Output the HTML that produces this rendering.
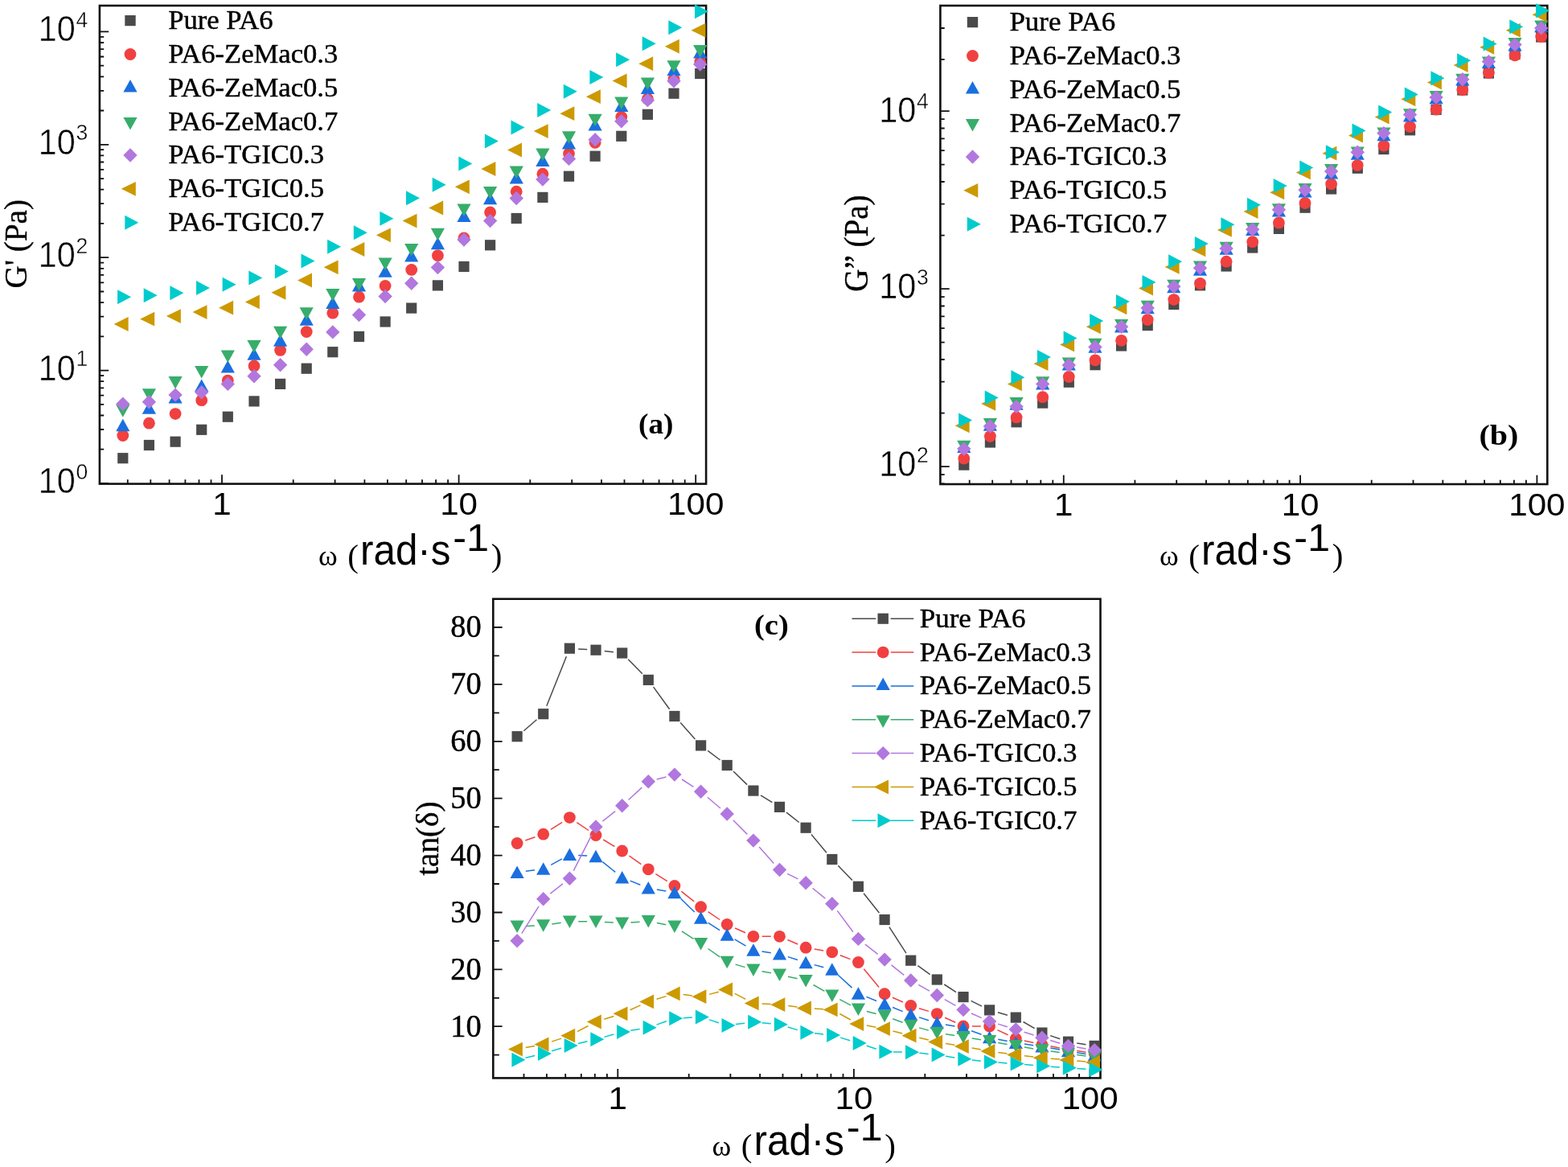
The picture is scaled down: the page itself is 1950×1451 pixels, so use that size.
<!DOCTYPE html>
<html lang="en">
<head>
<meta charset="utf-8">
<title>Rheology of PA6 blends</title>
<style>
html,body{margin:0;padding:0;background:#fff;}
body{width:1950px;height:1451px;overflow:hidden;}
svg{display:block;}
text{fill:#000;}
</style>
</head>
<body>
<svg width="1950" height="1451" viewBox="0 0 1950 1451">
<rect width="1950" height="1451" fill="#fff"/>
<rect x="123.9" y="7" width="754.2" height="594.6" fill="none" stroke="#111" stroke-width="2.6"/>
<path d="M158.8 601.6v-5.3M187.3 601.6v-5.3M210.6 601.6v-5.3M230.4 601.6v-5.3M247.5 601.6v-5.3M262.5 601.6v-5.3M276 601.6v-11.3M364.7 601.6v-5.3M416.6 601.6v-5.3M453.4 601.6v-5.3M481.9 601.6v-5.3M505.2 601.6v-5.3M525 601.6v-5.3M542.1 601.6v-5.3M557.1 601.6v-5.3M570.6 601.6v-11.3M659.3 601.6v-5.3M711.2 601.6v-5.3M748 601.6v-5.3M776.5 601.6v-5.3M799.8 601.6v-5.3M819.6 601.6v-5.3M836.7 601.6v-5.3M851.7 601.6v-5.3M865.2 601.6v-11.3" stroke="#111" stroke-width="1.8" fill="none"/>
<path d="M123.9 601h11.3M123.9 558.7h5.3M123.9 534h5.3M123.9 516.5h5.3M123.9 502.9h5.3M123.9 491.7h5.3M123.9 482.3h5.3M123.9 474.2h5.3M123.9 467h5.3M123.9 460.6h11.3M123.9 418.3h5.3M123.9 393.6h5.3M123.9 376.1h5.3M123.9 362.5h5.3M123.9 351.3h5.3M123.9 341.9h5.3M123.9 333.8h5.3M123.9 326.6h5.3M123.9 320.2h11.3M123.9 277.9h5.3M123.9 253.2h5.3M123.9 235.7h5.3M123.9 222.1h5.3M123.9 210.9h5.3M123.9 201.5h5.3M123.9 193.4h5.3M123.9 186.2h5.3M123.9 179.8h11.3M123.9 137.5h5.3M123.9 112.8h5.3M123.9 95.3h5.3M123.9 81.7h5.3M123.9 70.5h5.3M123.9 61.1h5.3M123.9 53h5.3M123.9 45.8h5.3M123.9 39.4h11.3" stroke="#111" stroke-width="1.8" fill="none"/>
<text transform="translate(109.4 613) scale(0.985 1.04)" font-family="'Liberation Sans',Arial,sans-serif" font-size="42" text-anchor="end" stroke="#fff" stroke-width="0.45">10<tspan font-size="27" dy="-16.8" dx="1">0</tspan></text>
<text transform="translate(109.4 472.6) scale(0.985 1.04)" font-family="'Liberation Sans',Arial,sans-serif" font-size="42" text-anchor="end" stroke="#fff" stroke-width="0.45">10<tspan font-size="27" dy="-16.8" dx="1">1</tspan></text>
<text transform="translate(109.4 332.2) scale(0.985 1.04)" font-family="'Liberation Sans',Arial,sans-serif" font-size="42" text-anchor="end" stroke="#fff" stroke-width="0.45">10<tspan font-size="27" dy="-16.8" dx="1">2</tspan></text>
<text transform="translate(109.4 191.8) scale(0.985 1.04)" font-family="'Liberation Sans',Arial,sans-serif" font-size="42" text-anchor="end" stroke="#fff" stroke-width="0.45">10<tspan font-size="27" dy="-16.8" dx="1">3</tspan></text>
<text transform="translate(109.4 51.4) scale(0.985 1.04)" font-family="'Liberation Sans',Arial,sans-serif" font-size="42" text-anchor="end" stroke="#fff" stroke-width="0.45">10<tspan font-size="27" dy="-16.8" dx="1">4</tspan></text>
<text x="0" y="0" transform="translate(276 640.2) scale(1.08 1)" font-family="'Liberation Sans',Arial,sans-serif" font-size="39" text-anchor="middle" font-weight="normal" >1</text>
<text x="0" y="0" transform="translate(570.6 640.2) scale(1.08 1)" font-family="'Liberation Sans',Arial,sans-serif" font-size="39" text-anchor="middle" font-weight="normal" >10</text>
<text x="0" y="0" transform="translate(865.2 640.2) scale(1.08 1)" font-family="'Liberation Sans',Arial,sans-serif" font-size="39" text-anchor="middle" font-weight="normal" >100</text>
<text transform="translate(32.6 303.2) rotate(-90) scale(0.98 1)" font-family="'Liberation Serif','Times New Roman',serif" font-size="40" text-anchor="middle" stroke="#000" stroke-width="0.4">G' (Pa)</text>
<text font-size="54"><tspan x="396" y="703.3" font-family="'Liberation Serif','Times New Roman',serif" font-size="36">ω</tspan><tspan x="422.1" y="704.8" font-family="'Liberation Serif','Times New Roman',serif" font-size="41"> (</tspan><tspan x="448" y="702.2" font-family="'Liberation Sans',Arial,sans-serif" font-size="54" textLength="112.5" lengthAdjust="spacingAndGlyphs">rad·s</tspan><tspan x="563.2" y="684.7" font-family="'Liberation Sans',Arial,sans-serif" font-size="49" textLength="45" lengthAdjust="spacingAndGlyphs">-1</tspan><tspan x="610.8" y="704.2" font-family="'Liberation Serif','Times New Roman',serif" font-size="41">)</tspan></text>
<rect x="155.3" y="19" width="13.4" height="13.2" fill="#4a4a4a"/>
<text x="0" y="0" transform="translate(209.2 36) scale(1.018 1)" font-family="'Liberation Serif','Times New Roman',serif" font-size="34" text-anchor="start" font-weight="normal" stroke="#000" stroke-width="0.45">Pure PA6</text>
<circle cx="162" cy="67.5" r="7.4" fill="#F14040"/>
<text x="0" y="0" transform="translate(209.2 77.9) scale(1.018 1)" font-family="'Liberation Serif','Times New Roman',serif" font-size="34" text-anchor="start" font-weight="normal" stroke="#000" stroke-width="0.45">PA6-ZeMac0.3</text>
<path d="M153.4 114.5L170.6 114.5L162 99Z" fill="#1A6FDF"/>
<text x="0" y="0" transform="translate(209.2 119.7) scale(1.018 1)" font-family="'Liberation Serif','Times New Roman',serif" font-size="34" text-anchor="start" font-weight="normal" stroke="#000" stroke-width="0.45">PA6-ZeMac0.5</text>
<path d="M153.4 145.9L170.6 145.9L162 161.4Z" fill="#37AD6B"/>
<text x="0" y="0" transform="translate(209.2 161.6) scale(1.018 1)" font-family="'Liberation Serif','Times New Roman',serif" font-size="34" text-anchor="start" font-weight="normal" stroke="#000" stroke-width="0.45">PA6-ZeMac0.7</text>
<path d="M153.3 193L162 184.3L170.7 193L162 201.7Z" fill="#B177DE"/>
<text x="0" y="0" transform="translate(209.2 203.4) scale(1.018 1)" font-family="'Liberation Serif','Times New Roman',serif" font-size="34" text-anchor="start" font-weight="normal" stroke="#000" stroke-width="0.45">PA6-TGIC0.3</text>
<path d="M150.8 234.8L168.8 225.9L168.8 243.8Z" fill="#CC9900"/>
<text x="0" y="0" transform="translate(209.2 245.2) scale(1.018 1)" font-family="'Liberation Serif','Times New Roman',serif" font-size="34" text-anchor="start" font-weight="normal" stroke="#000" stroke-width="0.45">PA6-TGIC0.5</text>
<path d="M172.3 276.7L155.3 267.7L155.3 285.7Z" fill="#00CBCC"/>
<text x="0" y="0" transform="translate(209.2 287.1) scale(1.018 1)" font-family="'Liberation Serif','Times New Roman',serif" font-size="34" text-anchor="start" font-weight="normal" stroke="#000" stroke-width="0.45">PA6-TGIC0.7</text>
<g><rect x="146.2" y="563.1" width="13.2" height="13.2" fill="#4a4a4a"/><rect x="178.8" y="546.9" width="13.2" height="13.2" fill="#4a4a4a"/><rect x="211.5" y="542.6" width="13.2" height="13.2" fill="#4a4a4a"/><rect x="244.1" y="527.7" width="13.2" height="13.2" fill="#4a4a4a"/><rect x="276.7" y="511.6" width="13.2" height="13.2" fill="#4a4a4a"/><rect x="309.4" y="492.3" width="13.2" height="13.2" fill="#4a4a4a"/><rect x="342" y="470.8" width="13.2" height="13.2" fill="#4a4a4a"/><rect x="374.6" y="451.6" width="13.2" height="13.2" fill="#4a4a4a"/><rect x="407.2" y="431.1" width="13.2" height="13.2" fill="#4a4a4a"/><rect x="439.9" y="411.9" width="13.2" height="13.2" fill="#4a4a4a"/><rect x="472.5" y="393.4" width="13.2" height="13.2" fill="#4a4a4a"/><rect x="505.1" y="376.5" width="13.2" height="13.2" fill="#4a4a4a"/><rect x="537.8" y="348.3" width="13.2" height="13.2" fill="#4a4a4a"/><rect x="570.4" y="324.9" width="13.2" height="13.2" fill="#4a4a4a"/><rect x="603" y="298.2" width="13.2" height="13.2" fill="#4a4a4a"/><rect x="635.6" y="264.9" width="13.2" height="13.2" fill="#4a4a4a"/><rect x="668.3" y="238.8" width="13.2" height="13.2" fill="#4a4a4a"/><rect x="700.9" y="212.6" width="13.2" height="13.2" fill="#4a4a4a"/><rect x="733.5" y="187.6" width="13.2" height="13.2" fill="#4a4a4a"/><rect x="766.2" y="162.7" width="13.2" height="13.2" fill="#4a4a4a"/><rect x="798.8" y="135.7" width="13.2" height="13.2" fill="#4a4a4a"/><rect x="831.4" y="109.6" width="13.2" height="13.2" fill="#4a4a4a"/><rect x="864.1" y="84.9" width="13.2" height="13.2" fill="#4a4a4a"/></g>
<g><circle cx="152.8" cy="541.5" r="7.4" fill="#F14040"/><circle cx="185.4" cy="526.2" r="7.4" fill="#F14040"/><circle cx="218.1" cy="514.6" r="7.4" fill="#F14040"/><circle cx="250.7" cy="497.7" r="7.4" fill="#F14040"/><circle cx="283.3" cy="473.1" r="7.4" fill="#F14040"/><circle cx="316" cy="454.9" r="7.4" fill="#F14040"/><circle cx="348.6" cy="435.4" r="7.4" fill="#F14040"/><circle cx="381.2" cy="412.6" r="7.4" fill="#F14040"/><circle cx="413.8" cy="389.2" r="7.4" fill="#F14040"/><circle cx="446.5" cy="369.2" r="7.4" fill="#F14040"/><circle cx="479.1" cy="355.4" r="7.4" fill="#F14040"/><circle cx="511.7" cy="335.4" r="7.4" fill="#F14040"/><circle cx="544.4" cy="317.7" r="7.4" fill="#F14040"/><circle cx="577" cy="296" r="7.4" fill="#F14040"/><circle cx="609.6" cy="264" r="7.4" fill="#F14040"/><circle cx="642.2" cy="238.2" r="7.4" fill="#F14040"/><circle cx="674.9" cy="216.2" r="7.4" fill="#F14040"/><circle cx="707.5" cy="191" r="7.4" fill="#F14040"/><circle cx="740.1" cy="177.3" r="7.4" fill="#F14040"/><circle cx="772.8" cy="145.5" r="7.4" fill="#F14040"/><circle cx="805.4" cy="123" r="7.4" fill="#F14040"/><circle cx="838" cy="98.5" r="7.4" fill="#F14040"/><circle cx="870.7" cy="77" r="7.4" fill="#F14040"/></g>
<g><path d="M144.2 536.2L161.4 536.2L152.8 520.7Z" fill="#1A6FDF"/><path d="M176.8 514.7L194 514.7L185.4 499.2Z" fill="#1A6FDF"/><path d="M209.5 501.6L226.7 501.6L218.1 486.1Z" fill="#1A6FDF"/><path d="M242.1 487L259.3 487L250.7 471.5Z" fill="#1A6FDF"/><path d="M274.7 463.5L291.9 463.5L283.3 448Z" fill="#1A6FDF"/><path d="M307.4 447.8L324.6 447.8L316 432.3Z" fill="#1A6FDF"/><path d="M340 430.8L357.2 430.8L348.6 415.3Z" fill="#1A6FDF"/><path d="M372.6 404.7L389.8 404.7L381.2 389.2Z" fill="#1A6FDF"/><path d="M405.2 383.9L422.4 383.9L413.8 368.4Z" fill="#1A6FDF"/><path d="M437.9 362.4L455.1 362.4L446.5 346.9Z" fill="#1A6FDF"/><path d="M470.5 344.7L487.7 344.7L479.1 329.2Z" fill="#1A6FDF"/><path d="M503.1 325.5L520.3 325.5L511.7 310Z" fill="#1A6FDF"/><path d="M535.8 310.3L553 310.3L544.4 294.8Z" fill="#1A6FDF"/><path d="M568.4 276.1L585.6 276.1L577 260.6Z" fill="#1A6FDF"/><path d="M601 254.3L618.2 254.3L609.6 238.8Z" fill="#1A6FDF"/><path d="M633.6 228.5L650.9 228.5L642.2 213Z" fill="#1A6FDF"/><path d="M666.3 207L683.5 207L674.9 191.5Z" fill="#1A6FDF"/><path d="M698.9 185.5L716.1 185.5L707.5 170Z" fill="#1A6FDF"/><path d="M731.5 162.4L748.7 162.4L740.1 146.9Z" fill="#1A6FDF"/><path d="M764.2 138.9L781.4 138.9L772.8 123.4Z" fill="#1A6FDF"/><path d="M796.8 117L814 117L805.4 101.5Z" fill="#1A6FDF"/><path d="M829.4 94.2L846.6 94.2L838 78.7Z" fill="#1A6FDF"/><path d="M862.1 72.4L879.3 72.4L870.7 56.9Z" fill="#1A6FDF"/></g>
<g><path d="M144.2 503.2L161.4 503.2L152.8 518.7Z" fill="#37AD6B"/><path d="M176.8 483.3L194 483.3L185.4 498.8Z" fill="#37AD6B"/><path d="M209.5 467.9L226.7 467.9L218.1 483.4Z" fill="#37AD6B"/><path d="M242.1 455L259.3 455L250.7 470.5Z" fill="#37AD6B"/><path d="M274.7 435.6L291.9 435.6L283.3 451.1Z" fill="#37AD6B"/><path d="M307.4 423L324.6 423L316 438.5Z" fill="#37AD6B"/><path d="M340 405.8L357.2 405.8L348.6 421.3Z" fill="#37AD6B"/><path d="M372.6 382.2L389.8 382.2L381.2 397.7Z" fill="#37AD6B"/><path d="M405.2 358.9L422.4 358.9L413.8 374.4Z" fill="#37AD6B"/><path d="M437.9 346.1L455.1 346.1L446.5 361.6Z" fill="#37AD6B"/><path d="M470.5 320.4L487.7 320.4L479.1 335.9Z" fill="#37AD6B"/><path d="M503.1 303L520.3 303L511.7 318.5Z" fill="#37AD6B"/><path d="M535.8 283.7L553 283.7L544.4 299.2Z" fill="#37AD6B"/><path d="M568.4 253.4L585.6 253.4L577 268.9Z" fill="#37AD6B"/><path d="M601 231.9L618.2 231.9L609.6 247.4Z" fill="#37AD6B"/><path d="M633.6 206.5L650.9 206.5L642.2 222Z" fill="#37AD6B"/><path d="M666.3 184.5L683.5 184.5L674.9 200Z" fill="#37AD6B"/><path d="M698.9 163.3L716.1 163.3L707.5 178.8Z" fill="#37AD6B"/><path d="M731.5 141.7L748.7 141.7L740.1 157.2Z" fill="#37AD6B"/><path d="M764.2 120.4L781.4 120.4L772.8 135.9Z" fill="#37AD6B"/><path d="M796.8 96.5L814 96.5L805.4 112Z" fill="#37AD6B"/><path d="M829.4 75.3L846.6 75.3L838 90.8Z" fill="#37AD6B"/><path d="M862.1 56.1L879.3 56.1L870.7 71.6Z" fill="#37AD6B"/></g>
<g><path d="M144.1 502.3L152.8 493.6L161.5 502.3L152.8 511Z" fill="#B177DE"/><path d="M176.7 499.7L185.4 491L194.1 499.7L185.4 508.4Z" fill="#B177DE"/><path d="M209.4 491.1L218.1 482.4L226.8 491.1L218.1 499.8Z" fill="#B177DE"/><path d="M242 487.7L250.7 479L259.4 487.7L250.7 496.4Z" fill="#B177DE"/><path d="M274.6 477.4L283.3 468.7L292 477.4L283.3 486.1Z" fill="#B177DE"/><path d="M307.3 467.7L316 459L324.7 467.7L316 476.4Z" fill="#B177DE"/><path d="M339.9 453.8L348.6 445.1L357.3 453.8L348.6 462.5Z" fill="#B177DE"/><path d="M372.5 434.3L381.2 425.6L389.9 434.3L381.2 443Z" fill="#B177DE"/><path d="M405.1 412.9L413.8 404.2L422.5 412.9L413.8 421.6Z" fill="#B177DE"/><path d="M437.8 391.5L446.5 382.8L455.2 391.5L446.5 400.2Z" fill="#B177DE"/><path d="M470.4 368.5L479.1 359.8L487.8 368.5L479.1 377.2Z" fill="#B177DE"/><path d="M503 352.3L511.7 343.6L520.4 352.3L511.7 361Z" fill="#B177DE"/><path d="M535.7 332.6L544.4 323.9L553.1 332.6L544.4 341.3Z" fill="#B177DE"/><path d="M568.3 298L577 289.3L585.7 298L577 306.7Z" fill="#B177DE"/><path d="M600.9 274.6L609.6 265.9L618.3 274.6L609.6 283.3Z" fill="#B177DE"/><path d="M633.5 246.5L642.2 237.8L651 246.5L642.2 255.2Z" fill="#B177DE"/><path d="M666.2 223.1L674.9 214.4L683.6 223.1L674.9 231.8Z" fill="#B177DE"/><path d="M698.8 197.4L707.5 188.7L716.2 197.4L707.5 206.1Z" fill="#B177DE"/><path d="M731.4 173.8L740.1 165.1L748.8 173.8L740.1 182.5Z" fill="#B177DE"/><path d="M764.1 150.8L772.8 142.1L781.5 150.8L772.8 159.5Z" fill="#B177DE"/><path d="M796.7 124.6L805.4 115.9L814.1 124.6L805.4 133.3Z" fill="#B177DE"/><path d="M829.3 100.8L838 92.1L846.7 100.8L838 109.5Z" fill="#B177DE"/><path d="M862 80L870.7 71.3L879.4 80L870.7 88.7Z" fill="#B177DE"/></g>
<g><path d="M141.6 403L159.6 394.1L159.6 411.9Z" fill="#CC9900"/><path d="M174.2 396.7L192.2 387.8L192.2 405.6Z" fill="#CC9900"/><path d="M206.9 393.1L224.9 384.2L224.9 402Z" fill="#CC9900"/><path d="M239.5 388.1L257.5 379.2L257.5 397Z" fill="#CC9900"/><path d="M272.1 382.7L290.1 373.8L290.1 391.6Z" fill="#CC9900"/><path d="M304.8 375.4L322.8 366.5L322.8 384.3Z" fill="#CC9900"/><path d="M337.4 363.8L355.4 354.9L355.4 372.7Z" fill="#CC9900"/><path d="M370 348.5L388 339.6L388 357.4Z" fill="#CC9900"/><path d="M402.6 332.3L420.6 323.4L420.6 341.2Z" fill="#CC9900"/><path d="M435.3 310L453.3 301.1L453.3 318.9Z" fill="#CC9900"/><path d="M467.9 292.3L485.9 283.4L485.9 301.2Z" fill="#CC9900"/><path d="M500.5 274.6L518.5 265.7L518.5 283.5Z" fill="#CC9900"/><path d="M533.2 258.5L551.2 249.6L551.2 267.4Z" fill="#CC9900"/><path d="M565.8 232.3L583.8 223.4L583.8 241.2Z" fill="#CC9900"/><path d="M598.4 210L616.4 201.1L616.4 218.9Z" fill="#CC9900"/><path d="M631 186.5L649 177.6L649 195.4Z" fill="#CC9900"/><path d="M663.7 163.1L681.7 154.2L681.7 172Z" fill="#CC9900"/><path d="M696.3 141.2L714.3 132.3L714.3 150.1Z" fill="#CC9900"/><path d="M728.9 120.2L746.9 111.3L746.9 129.1Z" fill="#CC9900"/><path d="M761.6 100.5L779.6 91.6L779.6 109.4Z" fill="#CC9900"/><path d="M794.2 79.2L812.2 70.3L812.2 88.1Z" fill="#CC9900"/><path d="M826.8 57.7L844.8 48.8L844.8 66.6Z" fill="#CC9900"/><path d="M859.5 37.7L877.5 28.8L877.5 46.6Z" fill="#CC9900"/></g>
<g><path d="M163.1 369.2L146.1 360.2L146.1 378.2Z" fill="#00CBCC"/><path d="M195.7 367.2L178.7 358.2L178.7 376.2Z" fill="#00CBCC"/><path d="M228.4 364.2L211.4 355.2L211.4 373.2Z" fill="#00CBCC"/><path d="M261 358.1L244 349.1L244 367.1Z" fill="#00CBCC"/><path d="M293.6 353.8L276.6 344.8L276.6 362.8Z" fill="#00CBCC"/><path d="M326.3 345.4L309.3 336.4L309.3 354.4Z" fill="#00CBCC"/><path d="M358.9 337.4L341.9 328.4L341.9 346.4Z" fill="#00CBCC"/><path d="M391.5 324.4L374.5 315.4L374.5 333.4Z" fill="#00CBCC"/><path d="M424.1 306.7L407.1 297.7L407.1 315.7Z" fill="#00CBCC"/><path d="M456.8 289.2L439.8 280.2L439.8 298.2Z" fill="#00CBCC"/><path d="M489.4 271.8L472.4 262.8L472.4 280.8Z" fill="#00CBCC"/><path d="M522 246.3L505 237.3L505 255.3Z" fill="#00CBCC"/><path d="M554.7 229.8L537.7 220.8L537.7 238.8Z" fill="#00CBCC"/><path d="M587.3 203.4L570.3 194.4L570.3 212.4Z" fill="#00CBCC"/><path d="M619.9 175.5L602.9 166.5L602.9 184.5Z" fill="#00CBCC"/><path d="M652.5 158.5L635.5 149.5L635.5 167.5Z" fill="#00CBCC"/><path d="M685.2 136.9L668.2 127.9L668.2 145.9Z" fill="#00CBCC"/><path d="M717.8 113.8L700.8 104.8L700.8 122.8Z" fill="#00CBCC"/><path d="M750.4 96L733.4 87L733.4 105Z" fill="#00CBCC"/><path d="M783.1 74.3L766.1 65.3L766.1 83.3Z" fill="#00CBCC"/><path d="M815.7 54.2L798.7 45.2L798.7 63.2Z" fill="#00CBCC"/><path d="M848.3 34.2L831.3 25.2L831.3 43.2Z" fill="#00CBCC"/><path d="M881 14.2L864 5.2L864 23.2Z" fill="#00CBCC"/></g>
<text x="0" y="0" transform="translate(815.8 538.6) scale(1.065 1)" font-family="'Liberation Serif','Times New Roman',serif" font-size="35" text-anchor="middle" font-weight="bold" >(a)</text>
<rect x="1169.4" y="7" width="754.9" height="595" fill="none" stroke="#111" stroke-width="2.6"/>
<path d="M1205.7 602v-5.3M1234.2 602v-5.3M1257.5 602v-5.3M1277.2 602v-5.3M1294.3 602v-5.3M1309.3 602v-5.3M1322.8 602v-11.3M1411.4 602v-5.3M1463.2 602v-5.3M1500 602v-5.3M1528.5 602v-5.3M1551.8 602v-5.3M1571.5 602v-5.3M1588.6 602v-5.3M1603.6 602v-5.3M1617.1 602v-11.3M1705.7 602v-5.3M1757.5 602v-5.3M1794.3 602v-5.3M1822.8 602v-5.3M1846.1 602v-5.3M1865.8 602v-5.3M1882.9 602v-5.3M1897.9 602v-5.3M1911.4 602v-11.3" stroke="#111" stroke-width="1.8" fill="none"/>
<path d="M1169.4 601.5h5.3M1169.4 590.2h5.3M1169.4 580.1h11.3M1169.4 513.6h5.3M1169.4 474.7h5.3M1169.4 447h5.3M1169.4 425.6h5.3M1169.4 408.1h5.3M1169.4 393.3h5.3M1169.4 380.5h5.3M1169.4 369.2h5.3M1169.4 359.1h11.3M1169.4 292.6h5.3M1169.4 253.7h5.3M1169.4 226h5.3M1169.4 204.6h5.3M1169.4 187.1h5.3M1169.4 172.3h5.3M1169.4 159.5h5.3M1169.4 148.2h5.3M1169.4 138.1h11.3M1169.4 73.9h5.3M1169.4 35h5.3" stroke="#111" stroke-width="1.8" fill="none"/>
<text transform="translate(1154.9 592.1) scale(0.985 1.04)" font-family="'Liberation Sans',Arial,sans-serif" font-size="42" text-anchor="end" stroke="#fff" stroke-width="0.45">10<tspan font-size="27" dy="-16.8" dx="1">2</tspan></text>
<text transform="translate(1154.9 371.1) scale(0.985 1.04)" font-family="'Liberation Sans',Arial,sans-serif" font-size="42" text-anchor="end" stroke="#fff" stroke-width="0.45">10<tspan font-size="27" dy="-16.8" dx="1">3</tspan></text>
<text transform="translate(1154.9 152.1) scale(0.985 1.04)" font-family="'Liberation Sans',Arial,sans-serif" font-size="42" text-anchor="end" stroke="#fff" stroke-width="0.45">10<tspan font-size="27" dy="-16.8" dx="1">4</tspan></text>
<text x="0" y="0" transform="translate(1322.8 640.6) scale(1.08 1)" font-family="'Liberation Sans',Arial,sans-serif" font-size="39" text-anchor="middle" font-weight="normal" >1</text>
<text x="0" y="0" transform="translate(1617.1 640.6) scale(1.08 1)" font-family="'Liberation Sans',Arial,sans-serif" font-size="39" text-anchor="middle" font-weight="normal" >10</text>
<text x="0" y="0" transform="translate(1911.4 640.6) scale(1.08 1)" font-family="'Liberation Sans',Arial,sans-serif" font-size="39" text-anchor="middle" font-weight="normal" >100</text>
<text transform="translate(1078.9 302.6) rotate(-90) scale(0.94 1)" font-family="'Liberation Serif','Times New Roman',serif" font-size="41.5" text-anchor="middle" stroke="#000" stroke-width="0.4">G” (Pa)</text>
<text font-size="54"><tspan x="1442" y="703.3" font-family="'Liberation Serif','Times New Roman',serif" font-size="36">ω</tspan><tspan x="1468.1" y="704.8" font-family="'Liberation Serif','Times New Roman',serif" font-size="41"> (</tspan><tspan x="1494" y="702.2" font-family="'Liberation Sans',Arial,sans-serif" font-size="54" textLength="112.5" lengthAdjust="spacingAndGlyphs">rad·s</tspan><tspan x="1609.2" y="684.7" font-family="'Liberation Sans',Arial,sans-serif" font-size="49" textLength="45" lengthAdjust="spacingAndGlyphs">-1</tspan><tspan x="1656.8" y="704.2" font-family="'Liberation Serif','Times New Roman',serif" font-size="41">)</tspan></text>
<rect x="1202.8" y="21" width="13.4" height="13.2" fill="#4a4a4a"/>
<text x="0" y="0" transform="translate(1255.4 38) scale(1.028 1)" font-family="'Liberation Serif','Times New Roman',serif" font-size="34" text-anchor="start" font-weight="normal" stroke="#000" stroke-width="0.45">Pure PA6</text>
<circle cx="1209.5" cy="69.5" r="7.4" fill="#F14040"/>
<text x="0" y="0" transform="translate(1255.4 79.9) scale(1.028 1)" font-family="'Liberation Serif','Times New Roman',serif" font-size="34" text-anchor="start" font-weight="normal" stroke="#000" stroke-width="0.45">PA6-ZeMac0.3</text>
<path d="M1200.9 116.5L1218.1 116.5L1209.5 101Z" fill="#1A6FDF"/>
<text x="0" y="0" transform="translate(1255.4 121.7) scale(1.028 1)" font-family="'Liberation Serif','Times New Roman',serif" font-size="34" text-anchor="start" font-weight="normal" stroke="#000" stroke-width="0.45">PA6-ZeMac0.5</text>
<path d="M1200.9 147.9L1218.1 147.9L1209.5 163.4Z" fill="#37AD6B"/>
<text x="0" y="0" transform="translate(1255.4 163.6) scale(1.028 1)" font-family="'Liberation Serif','Times New Roman',serif" font-size="34" text-anchor="start" font-weight="normal" stroke="#000" stroke-width="0.45">PA6-ZeMac0.7</text>
<path d="M1200.8 195L1209.5 186.3L1218.2 195L1209.5 203.7Z" fill="#B177DE"/>
<text x="0" y="0" transform="translate(1255.4 205.4) scale(1.028 1)" font-family="'Liberation Serif','Times New Roman',serif" font-size="34" text-anchor="start" font-weight="normal" stroke="#000" stroke-width="0.45">PA6-TGIC0.3</text>
<path d="M1198.3 236.8L1216.3 227.9L1216.3 245.8Z" fill="#CC9900"/>
<text x="0" y="0" transform="translate(1255.4 247.2) scale(1.028 1)" font-family="'Liberation Serif','Times New Roman',serif" font-size="34" text-anchor="start" font-weight="normal" stroke="#000" stroke-width="0.45">PA6-TGIC0.5</text>
<path d="M1219.8 278.7L1202.8 269.7L1202.8 287.7Z" fill="#00CBCC"/>
<text x="0" y="0" transform="translate(1255.4 289.1) scale(1.028 1)" font-family="'Liberation Serif','Times New Roman',serif" font-size="34" text-anchor="start" font-weight="normal" stroke="#000" stroke-width="0.45">PA6-TGIC0.7</text>
<g><rect x="1192.2" y="571.5" width="13.2" height="13.2" fill="#4a4a4a"/><rect x="1224.8" y="543.4" width="13.2" height="13.2" fill="#4a4a4a"/><rect x="1257.5" y="518.2" width="13.2" height="13.2" fill="#4a4a4a"/><rect x="1290.1" y="494.5" width="13.2" height="13.2" fill="#4a4a4a"/><rect x="1322.7" y="468.6" width="13.2" height="13.2" fill="#4a4a4a"/><rect x="1355.4" y="447.1" width="13.2" height="13.2" fill="#4a4a4a"/><rect x="1388" y="423.4" width="13.2" height="13.2" fill="#4a4a4a"/><rect x="1420.6" y="398" width="13.2" height="13.2" fill="#4a4a4a"/><rect x="1453.2" y="371.9" width="13.2" height="13.2" fill="#4a4a4a"/><rect x="1485.9" y="348.2" width="13.2" height="13.2" fill="#4a4a4a"/><rect x="1518.5" y="324.4" width="13.2" height="13.2" fill="#4a4a4a"/><rect x="1551.1" y="301.4" width="13.2" height="13.2" fill="#4a4a4a"/><rect x="1583.8" y="277.8" width="13.2" height="13.2" fill="#4a4a4a"/><rect x="1616.4" y="251.6" width="13.2" height="13.2" fill="#4a4a4a"/><rect x="1649" y="228.4" width="13.2" height="13.2" fill="#4a4a4a"/><rect x="1681.7" y="202.6" width="13.2" height="13.2" fill="#4a4a4a"/><rect x="1714.3" y="178.9" width="13.2" height="13.2" fill="#4a4a4a"/><rect x="1746.9" y="155.2" width="13.2" height="13.2" fill="#4a4a4a"/><rect x="1779.5" y="129.7" width="13.2" height="13.2" fill="#4a4a4a"/><rect x="1812.2" y="105.4" width="13.2" height="13.2" fill="#4a4a4a"/><rect x="1844.8" y="84.4" width="13.2" height="13.2" fill="#4a4a4a"/><rect x="1877.4" y="61" width="13.2" height="13.2" fill="#4a4a4a"/><rect x="1910.1" y="39.4" width="13.2" height="13.2" fill="#4a4a4a"/></g>
<g><circle cx="1198.8" cy="570" r="7.4" fill="#F14040"/><circle cx="1231.4" cy="542.6" r="7.4" fill="#F14040"/><circle cx="1264.1" cy="518.9" r="7.4" fill="#F14040"/><circle cx="1296.7" cy="493.7" r="7.4" fill="#F14040"/><circle cx="1329.3" cy="468.5" r="7.4" fill="#F14040"/><circle cx="1362" cy="447.8" r="7.4" fill="#F14040"/><circle cx="1394.6" cy="423.3" r="7.4" fill="#F14040"/><circle cx="1427.2" cy="397.6" r="7.4" fill="#F14040"/><circle cx="1459.8" cy="372.6" r="7.4" fill="#F14040"/><circle cx="1492.5" cy="352.5" r="7.4" fill="#F14040"/><circle cx="1525.1" cy="325.2" r="7.4" fill="#F14040"/><circle cx="1557.7" cy="300.7" r="7.4" fill="#F14040"/><circle cx="1590.4" cy="277" r="7.4" fill="#F14040"/><circle cx="1623" cy="252.5" r="7.4" fill="#F14040"/><circle cx="1655.6" cy="228.7" r="7.4" fill="#F14040"/><circle cx="1688.2" cy="205.6" r="7.4" fill="#F14040"/><circle cx="1720.9" cy="181.1" r="7.4" fill="#F14040"/><circle cx="1753.5" cy="157.4" r="7.4" fill="#F14040"/><circle cx="1786.1" cy="136.2" r="7.4" fill="#F14040"/><circle cx="1818.8" cy="111.8" r="7.4" fill="#F14040"/><circle cx="1851.4" cy="90.5" r="7.4" fill="#F14040"/><circle cx="1884" cy="68.8" r="7.4" fill="#F14040"/><circle cx="1916.7" cy="45.5" r="7.4" fill="#F14040"/></g>
<g><path d="M1190.2 563.1L1207.4 563.1L1198.8 547.6Z" fill="#1A6FDF"/><path d="M1222.8 535.8L1240 535.8L1231.4 520.3Z" fill="#1A6FDF"/><path d="M1255.5 509.8L1272.7 509.8L1264.1 494.3Z" fill="#1A6FDF"/><path d="M1288.1 484.6L1305.3 484.6L1296.7 469.1Z" fill="#1A6FDF"/><path d="M1320.7 460.6L1337.9 460.6L1329.3 445.1Z" fill="#1A6FDF"/><path d="M1353.4 438.7L1370.5 438.7L1362 423.2Z" fill="#1A6FDF"/><path d="M1386 413.5L1403.2 413.5L1394.6 398Z" fill="#1A6FDF"/><path d="M1418.6 390.3L1435.8 390.3L1427.2 374.8Z" fill="#1A6FDF"/><path d="M1451.2 364.3L1468.4 364.3L1459.8 348.8Z" fill="#1A6FDF"/><path d="M1483.9 342.8L1501.1 342.8L1492.5 327.3Z" fill="#1A6FDF"/><path d="M1516.5 316.8L1533.7 316.8L1525.1 301.3Z" fill="#1A6FDF"/><path d="M1549.1 293.1L1566.3 293.1L1557.7 277.6Z" fill="#1A6FDF"/><path d="M1581.8 269.4L1599 269.4L1590.4 253.9Z" fill="#1A6FDF"/><path d="M1614.4 245.5L1631.6 245.5L1623 230Z" fill="#1A6FDF"/><path d="M1647 222.4L1664.2 222.4L1655.6 206.9Z" fill="#1A6FDF"/><path d="M1679.7 198.7L1696.8 198.7L1688.2 183.2Z" fill="#1A6FDF"/><path d="M1712.3 175.3L1729.5 175.3L1720.9 159.8Z" fill="#1A6FDF"/><path d="M1744.9 151.6L1762.1 151.6L1753.5 136.1Z" fill="#1A6FDF"/><path d="M1777.5 129.3L1794.7 129.3L1786.1 113.8Z" fill="#1A6FDF"/><path d="M1810.2 106.5L1827.4 106.5L1818.8 91Z" fill="#1A6FDF"/><path d="M1842.8 84.9L1860 84.9L1851.4 69.4Z" fill="#1A6FDF"/><path d="M1875.4 63.6L1892.6 63.6L1884 48.1Z" fill="#1A6FDF"/><path d="M1908.1 40.3L1925.3 40.3L1916.7 24.8Z" fill="#1A6FDF"/></g>
<g><path d="M1190.2 547.7L1207.4 547.7L1198.8 563.2Z" fill="#37AD6B"/><path d="M1222.8 520L1240 520L1231.4 535.5Z" fill="#37AD6B"/><path d="M1255.5 494.1L1272.7 494.1L1264.1 509.6Z" fill="#37AD6B"/><path d="M1288.1 468.2L1305.3 468.2L1296.7 483.7Z" fill="#37AD6B"/><path d="M1320.7 444.5L1337.9 444.5L1329.3 460Z" fill="#37AD6B"/><path d="M1353.4 420.7L1370.5 420.7L1362 436.2Z" fill="#37AD6B"/><path d="M1386 397.1L1403.2 397.1L1394.6 412.6Z" fill="#37AD6B"/><path d="M1418.6 373.7L1435.8 373.7L1427.2 389.2Z" fill="#37AD6B"/><path d="M1451.2 347.7L1468.4 347.7L1459.8 363.2Z" fill="#37AD6B"/><path d="M1483.9 324.4L1501.1 324.4L1492.5 339.9Z" fill="#37AD6B"/><path d="M1516.5 300.7L1533.7 300.7L1525.1 316.2Z" fill="#37AD6B"/><path d="M1549.1 277L1566.3 277L1557.7 292.5Z" fill="#37AD6B"/><path d="M1581.8 253.3L1599 253.3L1590.4 268.8Z" fill="#37AD6B"/><path d="M1614.4 227.9L1631.6 227.9L1623 243.4Z" fill="#37AD6B"/><path d="M1647 204.1L1664.2 204.1L1655.6 219.6Z" fill="#37AD6B"/><path d="M1679.7 182.6L1696.8 182.6L1688.2 198.1Z" fill="#37AD6B"/><path d="M1712.3 158.6L1729.5 158.6L1720.9 174.1Z" fill="#37AD6B"/><path d="M1744.9 135.2L1762.1 135.2L1753.5 150.7Z" fill="#37AD6B"/><path d="M1777.5 113L1794.7 113L1786.1 128.5Z" fill="#37AD6B"/><path d="M1810.2 91.7L1827.4 91.7L1818.8 107.2Z" fill="#37AD6B"/><path d="M1842.8 70.4L1860 70.4L1851.4 85.9Z" fill="#37AD6B"/><path d="M1875.4 47.1L1892.6 47.1L1884 62.6Z" fill="#37AD6B"/><path d="M1908.1 25.5L1925.3 25.5L1916.7 41Z" fill="#37AD6B"/></g>
<g><path d="M1190.1 558.1L1198.8 549.4L1207.5 558.1L1198.8 566.8Z" fill="#B177DE"/><path d="M1222.7 530L1231.4 521.3L1240.1 530L1231.4 538.7Z" fill="#B177DE"/><path d="M1255.4 505.6L1264.1 496.9L1272.8 505.6L1264.1 514.3Z" fill="#B177DE"/><path d="M1288 477.4L1296.7 468.7L1305.4 477.4L1296.7 486.1Z" fill="#B177DE"/><path d="M1320.6 454L1329.3 445.3L1338 454L1329.3 462.7Z" fill="#B177DE"/><path d="M1353.2 431.5L1362 422.8L1370.7 431.5L1362 440.2Z" fill="#B177DE"/><path d="M1385.9 406.3L1394.6 397.6L1403.3 406.3L1394.6 415Z" fill="#B177DE"/><path d="M1418.5 383L1427.2 374.3L1435.9 383L1427.2 391.7Z" fill="#B177DE"/><path d="M1451.1 356.3L1459.8 347.6L1468.5 356.3L1459.8 365Z" fill="#B177DE"/><path d="M1483.8 333.3L1492.5 324.6L1501.2 333.3L1492.5 342Z" fill="#B177DE"/><path d="M1516.4 308.9L1525.1 300.2L1533.8 308.9L1525.1 317.6Z" fill="#B177DE"/><path d="M1549 285.2L1557.7 276.5L1566.4 285.2L1557.7 293.9Z" fill="#B177DE"/><path d="M1581.7 260.7L1590.4 252L1599.1 260.7L1590.4 269.4Z" fill="#B177DE"/><path d="M1614.3 236.2L1623 227.5L1631.7 236.2L1623 244.9Z" fill="#B177DE"/><path d="M1646.9 213L1655.6 204.3L1664.3 213L1655.6 221.7Z" fill="#B177DE"/><path d="M1679.5 189.3L1688.2 180.6L1697 189.3L1688.2 198Z" fill="#B177DE"/><path d="M1712.2 165.6L1720.9 156.9L1729.6 165.6L1720.9 174.3Z" fill="#B177DE"/><path d="M1744.8 142.6L1753.5 133.9L1762.2 142.6L1753.5 151.3Z" fill="#B177DE"/><path d="M1777.4 121L1786.1 112.3L1794.8 121L1786.1 129.7Z" fill="#B177DE"/><path d="M1810.1 98.8L1818.8 90.1L1827.5 98.8L1818.8 107.5Z" fill="#B177DE"/><path d="M1842.7 76.6L1851.4 67.9L1860.1 76.6L1851.4 85.3Z" fill="#B177DE"/><path d="M1875.3 55.5L1884 46.8L1892.7 55.5L1884 64.2Z" fill="#B177DE"/><path d="M1908 34.9L1916.7 26.2L1925.4 34.9L1916.7 43.6Z" fill="#B177DE"/></g>
<g><path d="M1187.6 529.3L1205.6 520.4L1205.6 538.2Z" fill="#CC9900"/><path d="M1220.2 501.9L1238.2 493L1238.2 510.8Z" fill="#CC9900"/><path d="M1252.9 477.4L1270.9 468.5L1270.9 486.3Z" fill="#CC9900"/><path d="M1285.5 452.2L1303.5 443.3L1303.5 461.1Z" fill="#CC9900"/><path d="M1318.1 428.5L1336.1 419.6L1336.1 437.4Z" fill="#CC9900"/><path d="M1350.8 406.3L1368.8 397.4L1368.8 415.2Z" fill="#CC9900"/><path d="M1383.4 382.3L1401.4 373.4L1401.4 391.2Z" fill="#CC9900"/><path d="M1416 358.5L1434 349.6L1434 367.4Z" fill="#CC9900"/><path d="M1448.6 331.9L1466.6 323L1466.6 340.8Z" fill="#CC9900"/><path d="M1481.3 310.4L1499.3 301.5L1499.3 319.3Z" fill="#CC9900"/><path d="M1513.9 285.9L1531.9 277L1531.9 294.8Z" fill="#CC9900"/><path d="M1546.5 263L1564.5 254.1L1564.5 271.9Z" fill="#CC9900"/><path d="M1579.2 239.3L1597.2 230.4L1597.2 248.2Z" fill="#CC9900"/><path d="M1611.8 214.4L1629.8 205.5L1629.8 223.3Z" fill="#CC9900"/><path d="M1644.4 190.7L1662.4 181.8L1662.4 199.6Z" fill="#CC9900"/><path d="M1677 168.5L1695 159.6L1695 177.4Z" fill="#CC9900"/><path d="M1709.7 145.6L1727.7 136.7L1727.7 154.5Z" fill="#CC9900"/><path d="M1742.3 123.3L1760.3 114.4L1760.3 132.2Z" fill="#CC9900"/><path d="M1774.9 102.5L1792.9 93.6L1792.9 111.4Z" fill="#CC9900"/><path d="M1807.6 81L1825.6 72.1L1825.6 89.9Z" fill="#CC9900"/><path d="M1840.2 58.8L1858.2 49.9L1858.2 67.7Z" fill="#CC9900"/><path d="M1872.8 37.7L1890.8 28.8L1890.8 46.6Z" fill="#CC9900"/><path d="M1905.5 18.3L1923.5 9.4L1923.5 27.2Z" fill="#CC9900"/></g>
<g><path d="M1209.1 522.6L1192.1 513.6L1192.1 531.6Z" fill="#00CBCC"/><path d="M1241.7 494.4L1224.7 485.4L1224.7 503.4Z" fill="#00CBCC"/><path d="M1274.4 469.3L1257.4 460.3L1257.4 478.3Z" fill="#00CBCC"/><path d="M1307 444.1L1290 435.1L1290 453.1Z" fill="#00CBCC"/><path d="M1339.6 420.4L1322.6 411.4L1322.6 429.4Z" fill="#00CBCC"/><path d="M1372.2 398.9L1355.2 389.9L1355.2 407.9Z" fill="#00CBCC"/><path d="M1404.9 375L1387.9 366L1387.9 384Z" fill="#00CBCC"/><path d="M1437.5 351.1L1420.5 342.1L1420.5 360.1Z" fill="#00CBCC"/><path d="M1470.1 325.2L1453.1 316.2L1453.1 334.2Z" fill="#00CBCC"/><path d="M1502.8 303L1485.8 294L1485.8 312Z" fill="#00CBCC"/><path d="M1535.4 279.3L1518.4 270.3L1518.4 288.3Z" fill="#00CBCC"/><path d="M1568 254.8L1551 245.8L1551 263.8Z" fill="#00CBCC"/><path d="M1600.7 231.1L1583.7 222.1L1583.7 240.1Z" fill="#00CBCC"/><path d="M1633.3 208.5L1616.3 199.5L1616.3 217.5Z" fill="#00CBCC"/><path d="M1665.9 189.3L1648.9 180.3L1648.9 198.3Z" fill="#00CBCC"/><path d="M1698.5 162.6L1681.5 153.6L1681.5 171.6Z" fill="#00CBCC"/><path d="M1731.2 139.6L1714.2 130.6L1714.2 148.6Z" fill="#00CBCC"/><path d="M1763.8 117.4L1746.8 108.4L1746.8 126.4Z" fill="#00CBCC"/><path d="M1796.4 97.2L1779.4 88.2L1779.4 106.2Z" fill="#00CBCC"/><path d="M1829.1 75.3L1812.1 66.3L1812.1 84.3Z" fill="#00CBCC"/><path d="M1861.7 54.4L1844.7 45.4L1844.7 63.4Z" fill="#00CBCC"/><path d="M1894.3 33.3L1877.3 24.3L1877.3 42.3Z" fill="#00CBCC"/><path d="M1927 13.3L1910 4.3L1910 22.3Z" fill="#00CBCC"/></g>
<text x="0" y="0" transform="translate(1863.9 553.1) scale(1.14 1)" font-family="'Liberation Serif','Times New Roman',serif" font-size="35" text-anchor="middle" font-weight="bold" >(b)</text>
<rect x="613.3" y="744.7" width="755.2" height="595.7" fill="none" stroke="#111" stroke-width="2.6"/>
<path d="M651.5 1340.4v-5.3M679.9 1340.4v-5.3M703.2 1340.4v-5.3M722.8 1340.4v-5.3M739.8 1340.4v-5.3M754.9 1340.4v-5.3M768.3 1340.4v-11.3M856.7 1340.4v-5.3M908.4 1340.4v-5.3M945.1 1340.4v-5.3M973.5 1340.4v-5.3M996.8 1340.4v-5.3M1016.4 1340.4v-5.3M1033.4 1340.4v-5.3M1048.5 1340.4v-5.3M1061.9 1340.4v-11.3M1150.3 1340.4v-5.3M1202 1340.4v-5.3M1238.7 1340.4v-5.3M1267.1 1340.4v-5.3M1290.4 1340.4v-5.3M1310 1340.4v-5.3M1327 1340.4v-5.3M1342.1 1340.4v-5.3M1355.5 1340.4v-11.3" stroke="#111" stroke-width="1.8" fill="none"/>
<text x="0" y="0" transform="translate(598.7 1288.5) scale(0.96 1)" font-family="'Liberation Serif','Times New Roman',serif" font-size="40" text-anchor="end" font-weight="normal" stroke="#000" stroke-width="0.45">10</text>
<text x="0" y="0" transform="translate(598.7 1217.6) scale(0.96 1)" font-family="'Liberation Serif','Times New Roman',serif" font-size="40" text-anchor="end" font-weight="normal" stroke="#000" stroke-width="0.45">20</text>
<text x="0" y="0" transform="translate(598.7 1146.8) scale(0.96 1)" font-family="'Liberation Serif','Times New Roman',serif" font-size="40" text-anchor="end" font-weight="normal" stroke="#000" stroke-width="0.45">30</text>
<text x="0" y="0" transform="translate(598.7 1075.9) scale(0.96 1)" font-family="'Liberation Serif','Times New Roman',serif" font-size="40" text-anchor="end" font-weight="normal" stroke="#000" stroke-width="0.45">40</text>
<text x="0" y="0" transform="translate(598.7 1005) scale(0.96 1)" font-family="'Liberation Serif','Times New Roman',serif" font-size="40" text-anchor="end" font-weight="normal" stroke="#000" stroke-width="0.45">50</text>
<text x="0" y="0" transform="translate(598.7 934.1) scale(0.96 1)" font-family="'Liberation Serif','Times New Roman',serif" font-size="40" text-anchor="end" font-weight="normal" stroke="#000" stroke-width="0.45">60</text>
<text x="0" y="0" transform="translate(598.7 863.2) scale(0.96 1)" font-family="'Liberation Serif','Times New Roman',serif" font-size="40" text-anchor="end" font-weight="normal" stroke="#000" stroke-width="0.45">70</text>
<text x="0" y="0" transform="translate(598.7 792.3) scale(0.96 1)" font-family="'Liberation Serif','Times New Roman',serif" font-size="40" text-anchor="end" font-weight="normal" stroke="#000" stroke-width="0.45">80</text>
<path d="M613.3 1311.7h7.5M613.3 1276.2h11.3M613.3 1240.8h7.5M613.3 1205.3h11.3M613.3 1169.9h7.5M613.3 1134.5h11.3M613.3 1099h7.5M613.3 1063.6h11.3M613.3 1028.1h7.5M613.3 992.7h11.3M613.3 957.2h7.5M613.3 921.8h11.3M613.3 886.3h7.5M613.3 850.9h11.3M613.3 815.4h7.5M613.3 780h11.3" stroke="#111" stroke-width="1.8" fill="none"/>
<text x="0" y="0" transform="translate(768.3 1379) scale(1.08 1)" font-family="'Liberation Sans',Arial,sans-serif" font-size="39" text-anchor="middle" font-weight="normal" >1</text>
<text x="0" y="0" transform="translate(1061.9 1379) scale(1.08 1)" font-family="'Liberation Sans',Arial,sans-serif" font-size="39" text-anchor="middle" font-weight="normal" >10</text>
<text x="0" y="0" transform="translate(1355.5 1379) scale(1.08 1)" font-family="'Liberation Sans',Arial,sans-serif" font-size="39" text-anchor="middle" font-weight="normal" >100</text>
<text transform="translate(545.4 1042.7) rotate(-90) scale(0.955 1)" font-family="'Liberation Serif','Times New Roman',serif" font-size="41" text-anchor="middle" stroke="#000" stroke-width="0.4">tan(δ)</text>
<text font-size="54"><tspan x="885.5" y="1436.9" font-family="'Liberation Serif','Times New Roman',serif" font-size="36">ω</tspan><tspan x="911.6" y="1438.4" font-family="'Liberation Serif','Times New Roman',serif" font-size="41"> (</tspan><tspan x="937.5" y="1435.8" font-family="'Liberation Sans',Arial,sans-serif" font-size="54" textLength="112.5" lengthAdjust="spacingAndGlyphs">rad·s</tspan><tspan x="1052.7" y="1418.3" font-family="'Liberation Sans',Arial,sans-serif" font-size="49" textLength="45" lengthAdjust="spacingAndGlyphs">-1</tspan><tspan x="1100.3" y="1437.8" font-family="'Liberation Serif','Times New Roman',serif" font-size="41">)</tspan></text>
<path d="M651.3 908.7L667.5 894.7M679.8 877.7L704.4 816.2M719.2 806.9L730.2 807.5M751.7 809.4L762.9 810.8M781.2 819.7L798.8 837.7M812.6 854.1L832.6 881.8M846.2 898.5L864.4 918.9M880.2 933.4L895.6 945M912 959L929.1 975.6M946 988.8L960.3 997.7M978 1010.1L993.7 1022.5M1009 1037.5L1027.9 1060.2M1042.3 1076.3L1059.9 1094.5M1074.1 1110.8L1093.4 1135M1105.9 1152.6L1126.9 1185.1M1141.4 1200.6L1156.6 1211.6M1174.3 1224L1189 1233.6M1207.6 1244.4L1221 1251.1M1241 1258.8L1252.9 1262.2M1272.6 1270.5L1286.6 1278.7M1306.1 1287.6L1318.3 1291.7M1339.2 1296.9L1350.5 1298.7" stroke="#4a4a4a" stroke-width="1.5" fill="none"/>
<g><rect x="636.5" y="909.1" width="13.2" height="13.2" fill="#4a4a4a"/><rect x="669.1" y="881.1" width="13.2" height="13.2" fill="#4a4a4a"/><rect x="701.8" y="799.6" width="13.2" height="13.2" fill="#4a4a4a"/><rect x="734.4" y="801.6" width="13.2" height="13.2" fill="#4a4a4a"/><rect x="767.1" y="805.4" width="13.2" height="13.2" fill="#4a4a4a"/><rect x="799.7" y="838.8" width="13.2" height="13.2" fill="#4a4a4a"/><rect x="832.3" y="883.9" width="13.2" height="13.2" fill="#4a4a4a"/><rect x="865" y="920.3" width="13.2" height="13.2" fill="#4a4a4a"/><rect x="897.6" y="944.9" width="13.2" height="13.2" fill="#4a4a4a"/><rect x="930.3" y="976.5" width="13.2" height="13.2" fill="#4a4a4a"/><rect x="962.9" y="996.8" width="13.2" height="13.2" fill="#4a4a4a"/><rect x="995.5" y="1022.6" width="13.2" height="13.2" fill="#4a4a4a"/><rect x="1028.2" y="1061.9" width="13.2" height="13.2" fill="#4a4a4a"/><rect x="1060.8" y="1095.7" width="13.2" height="13.2" fill="#4a4a4a"/><rect x="1093.5" y="1136.9" width="13.2" height="13.2" fill="#4a4a4a"/><rect x="1126.1" y="1187.6" width="13.2" height="13.2" fill="#4a4a4a"/><rect x="1158.7" y="1211.4" width="13.2" height="13.2" fill="#4a4a4a"/><rect x="1191.4" y="1233" width="13.2" height="13.2" fill="#4a4a4a"/><rect x="1224" y="1249.3" width="13.2" height="13.2" fill="#4a4a4a"/><rect x="1256.7" y="1258.5" width="13.2" height="13.2" fill="#4a4a4a"/><rect x="1289.3" y="1277.5" width="13.2" height="13.2" fill="#4a4a4a"/><rect x="1321.9" y="1288.6" width="13.2" height="13.2" fill="#4a4a4a"/><rect x="1354.6" y="1293.8" width="13.2" height="13.2" fill="#4a4a4a"/></g>
<path d="M653.3 1045L665.5 1040.7M684.9 1031.4L699.2 1022.4M717.3 1022.6L732.1 1032.5M750.3 1044L764.4 1052.5M782.5 1064.2L797.4 1074.6M815.4 1086.6L829.8 1095.7M847.4 1108.3L863.2 1120.9M880.6 1133.7L895.2 1143.5M914.1 1154L927 1159.8M947.7 1164.3L958.7 1164.3M979.4 1168.5L992.2 1174M1012.8 1180L1024.1 1182M1044.8 1187.7L1057.4 1192.6M1074.3 1204.8L1093.1 1227.4M1109.9 1240.2L1122.9 1246M1143 1253.7L1155 1257.4M1175.1 1265.2L1188.2 1271.3M1208.8 1275.9L1219.8 1275.9M1240.4 1280.6L1253.5 1286.8M1273.8 1293.9L1285.4 1296.5M1306.5 1300.8L1317.9 1302.9M1339.2 1306.5L1350.5 1308.3" stroke="#F14040" stroke-width="1.5" fill="none"/>
<g><circle cx="643.1" cy="1048.5" r="7.4" fill="#F14040"/><circle cx="675.7" cy="1037.2" r="7.4" fill="#F14040"/><circle cx="708.4" cy="1016.6" r="7.4" fill="#F14040"/><circle cx="741" cy="1038.5" r="7.4" fill="#F14040"/><circle cx="773.7" cy="1058" r="7.4" fill="#F14040"/><circle cx="806.3" cy="1080.8" r="7.4" fill="#F14040"/><circle cx="838.9" cy="1101.5" r="7.4" fill="#F14040"/><circle cx="871.6" cy="1127.7" r="7.4" fill="#F14040"/><circle cx="904.2" cy="1149.5" r="7.4" fill="#F14040"/><circle cx="936.9" cy="1164.3" r="7.4" fill="#F14040"/><circle cx="969.5" cy="1164.3" r="7.4" fill="#F14040"/><circle cx="1002.1" cy="1178.2" r="7.4" fill="#F14040"/><circle cx="1034.8" cy="1183.8" r="7.4" fill="#F14040"/><circle cx="1067.4" cy="1196.5" r="7.4" fill="#F14040"/><circle cx="1100.1" cy="1235.7" r="7.4" fill="#F14040"/><circle cx="1132.7" cy="1250.5" r="7.4" fill="#F14040"/><circle cx="1165.3" cy="1260.6" r="7.4" fill="#F14040"/><circle cx="1198" cy="1275.9" r="7.4" fill="#F14040"/><circle cx="1230.6" cy="1275.9" r="7.4" fill="#F14040"/><circle cx="1263.3" cy="1291.5" r="7.4" fill="#F14040"/><circle cx="1295.9" cy="1298.9" r="7.4" fill="#F14040"/><circle cx="1328.5" cy="1304.8" r="7.4" fill="#F14040"/><circle cx="1361.2" cy="1310" r="7.4" fill="#F14040"/></g>
<path d="M653.8 1083.3L665 1081.8M685.2 1075.3L698.9 1067.8M719.2 1063.4L730.2 1064.1M749.4 1071.7L765.2 1084.3M783.7 1095.1L796.3 1100.2M816.9 1106.1L828.3 1108.1M846.7 1117.5L863.8 1134M880.7 1147.3L895.1 1156.7M913.6 1167.9L927.5 1176.1M947.5 1183L958.8 1184.7M979.8 1189.6L991.9 1193.5M1012.6 1199.6L1024.3 1202.7M1042.7 1212.7L1059.5 1228.1M1077.4 1239.4L1090 1244.5M1110.1 1252.5L1122.7 1257.6M1143 1264.9L1155 1268.7M1176 1274L1187.4 1276.1M1208.1 1281.8L1220.5 1286.3M1241.2 1292.2L1252.7 1294.5M1274 1298.1L1285.2 1299.7M1306.5 1303L1317.9 1305.1M1339.2 1308.7L1350.5 1310.5" stroke="#1A6FDF" stroke-width="1.5" fill="none"/>
<g><path d="M634.5 1091.9L651.7 1091.9L643.1 1076.4Z" fill="#1A6FDF"/><path d="M667.1 1087.8L684.3 1087.8L675.7 1072.3Z" fill="#1A6FDF"/><path d="M699.8 1069.9L717 1069.9L708.4 1054.4Z" fill="#1A6FDF"/><path d="M732.4 1072.2L749.6 1072.2L741 1056.7Z" fill="#1A6FDF"/><path d="M765.1 1098.4L782.3 1098.4L773.7 1082.9Z" fill="#1A6FDF"/><path d="M797.7 1111.5L814.9 1111.5L806.3 1096Z" fill="#1A6FDF"/><path d="M830.3 1117.3L847.5 1117.3L838.9 1101.8Z" fill="#1A6FDF"/><path d="M863 1148.8L880.2 1148.8L871.6 1133.3Z" fill="#1A6FDF"/><path d="M895.6 1169.8L912.8 1169.8L904.2 1154.3Z" fill="#1A6FDF"/><path d="M928.3 1188.8L945.5 1188.8L936.9 1173.3Z" fill="#1A6FDF"/><path d="M960.9 1193.5L978.1 1193.5L969.5 1178Z" fill="#1A6FDF"/><path d="M993.5 1204.2L1010.7 1204.2L1002.1 1188.7Z" fill="#1A6FDF"/><path d="M1026.2 1212.7L1043.4 1212.7L1034.8 1197.2Z" fill="#1A6FDF"/><path d="M1058.8 1242.7L1076 1242.7L1067.4 1227.2Z" fill="#1A6FDF"/><path d="M1091.5 1255.8L1108.7 1255.8L1100.1 1240.3Z" fill="#1A6FDF"/><path d="M1124.1 1268.9L1141.3 1268.9L1132.7 1253.4Z" fill="#1A6FDF"/><path d="M1156.7 1279.3L1173.9 1279.3L1165.3 1263.8Z" fill="#1A6FDF"/><path d="M1189.4 1285.4L1206.6 1285.4L1198 1269.9Z" fill="#1A6FDF"/><path d="M1222 1297.3L1239.2 1297.3L1230.6 1281.8Z" fill="#1A6FDF"/><path d="M1254.7 1304L1271.9 1304L1263.3 1288.5Z" fill="#1A6FDF"/><path d="M1287.3 1308.4L1304.5 1308.4L1295.9 1292.9Z" fill="#1A6FDF"/><path d="M1319.9 1314.3L1337.1 1314.3L1328.5 1298.8Z" fill="#1A6FDF"/><path d="M1352.6 1319.5L1369.8 1319.5L1361.2 1304Z" fill="#1A6FDF"/></g>
<path d="M653.9 1151.4L664.9 1151M686.4 1149L697.7 1147.3M719.2 1145.7L730.2 1145.7M751.8 1146.4L762.9 1147M784.4 1146.9L795.5 1146.2M816.9 1147.5L828.3 1149.7M847.9 1157.8L862.6 1167.4M880.5 1179.5L895.3 1189.9M914.6 1199.1L926.5 1202.6M947.5 1207.7L958.9 1209.8M980 1214.2L991.6 1216.8M1011.5 1224.5L1025.4 1232.4M1044.3 1242.7L1057.9 1249.9M1077.9 1257.5L1089.6 1260.5M1110.2 1266.8L1122.6 1271.3M1143.1 1277.9L1154.9 1281.1M1176 1285.7L1187.3 1287.6M1208.7 1291L1219.9 1292.7M1241.2 1296.4L1252.6 1298.4M1273.9 1302.1L1285.2 1303.9M1306.6 1307L1317.8 1308.6M1339.2 1311.4L1350.5 1313" stroke="#37AD6B" stroke-width="1.5" fill="none"/>
<g><path d="M634.5 1144.5L651.7 1144.5L643.1 1160Z" fill="#37AD6B"/><path d="M667.1 1143.3L684.3 1143.3L675.7 1158.8Z" fill="#37AD6B"/><path d="M699.8 1138.4L717 1138.4L708.4 1153.9Z" fill="#37AD6B"/><path d="M732.4 1138.4L749.6 1138.4L741 1153.9Z" fill="#37AD6B"/><path d="M765.1 1140.4L782.3 1140.4L773.7 1155.9Z" fill="#37AD6B"/><path d="M797.7 1138.1L814.9 1138.1L806.3 1153.6Z" fill="#37AD6B"/><path d="M830.3 1144.5L847.5 1144.5L838.9 1160Z" fill="#37AD6B"/><path d="M863 1166.1L880.2 1166.1L871.6 1181.6Z" fill="#37AD6B"/><path d="M895.6 1188.7L912.8 1188.7L904.2 1204.2Z" fill="#37AD6B"/><path d="M928.3 1198.4L945.5 1198.4L936.9 1213.9Z" fill="#37AD6B"/><path d="M960.9 1204.5L978.1 1204.5L969.5 1220Z" fill="#37AD6B"/><path d="M993.5 1211.9L1010.7 1211.9L1002.1 1227.4Z" fill="#37AD6B"/><path d="M1026.2 1230.4L1043.4 1230.4L1034.8 1245.9Z" fill="#37AD6B"/><path d="M1058.8 1247.6L1076 1247.6L1067.4 1263.1Z" fill="#37AD6B"/><path d="M1091.5 1255.8L1108.7 1255.8L1100.1 1271.3Z" fill="#37AD6B"/><path d="M1124.1 1267.7L1141.3 1267.7L1132.7 1283.2Z" fill="#37AD6B"/><path d="M1156.7 1276.7L1173.9 1276.7L1165.3 1292.2Z" fill="#37AD6B"/><path d="M1189.4 1282L1206.6 1282L1198 1297.5Z" fill="#37AD6B"/><path d="M1222 1287.1L1239.2 1287.1L1230.6 1302.6Z" fill="#37AD6B"/><path d="M1254.7 1293.1L1271.9 1293.1L1263.3 1308.6Z" fill="#37AD6B"/><path d="M1287.3 1298.3L1304.5 1298.3L1295.9 1313.8Z" fill="#37AD6B"/><path d="M1319.9 1302.7L1337.1 1302.7L1328.5 1318.2Z" fill="#37AD6B"/><path d="M1352.6 1307.1L1369.8 1307.1L1361.2 1322.6Z" fill="#37AD6B"/></g>
<path d="M648.8 1160.6L670 1126.8M684.3 1111.1L699.9 1098.9M713.3 1082.7L736.1 1037.6M749.4 1021.2L765.2 1008.6M781.6 994.5L798.3 979.1M816.7 969L828.5 965.9M848 969L862.5 978.3M879.8 991.2L896 1005M911.8 1019.7L929.3 1037.4M944.1 1053.1L962.3 1073.5M979.2 1086.3L992.5 1092.9M1010.6 1104.4L1026.3 1117.1M1041.3 1132.4L1060.9 1158.8M1075.9 1174.1L1091.6 1186.4M1108.5 1199.8L1124.2 1212.3M1142.1 1224.3L1155.9 1232.2M1174.8 1242.7L1188.5 1250.4M1207.9 1260L1220.7 1265.6M1241 1273.1L1252.9 1276.8M1273.6 1283.2L1285.6 1287M1306.2 1293.5L1318.2 1297.2M1339.2 1302.1L1350.5 1303.9" stroke="#B177DE" stroke-width="1.5" fill="none"/>
<g><path d="M634.4 1169.7L643.1 1161L651.8 1169.7L643.1 1178.4Z" fill="#B177DE"/><path d="M667 1117.7L675.7 1109L684.4 1117.7L675.7 1126.4Z" fill="#B177DE"/><path d="M699.7 1092.3L708.4 1083.6L717.1 1092.3L708.4 1101Z" fill="#B177DE"/><path d="M732.3 1028L741 1019.3L749.7 1028L741 1036.7Z" fill="#B177DE"/><path d="M765 1001.8L773.7 993.1L782.4 1001.8L773.7 1010.5Z" fill="#B177DE"/><path d="M797.6 971.8L806.3 963.1L815 971.8L806.3 980.5Z" fill="#B177DE"/><path d="M830.2 963.1L838.9 954.4L847.6 963.1L838.9 971.8Z" fill="#B177DE"/><path d="M862.9 984.2L871.6 975.5L880.3 984.2L871.6 992.9Z" fill="#B177DE"/><path d="M895.5 1012L904.2 1003.3L912.9 1012L904.2 1020.7Z" fill="#B177DE"/><path d="M928.2 1045.1L936.9 1036.4L945.6 1045.1L936.9 1053.8Z" fill="#B177DE"/><path d="M960.8 1081.5L969.5 1072.8L978.2 1081.5L969.5 1090.2Z" fill="#B177DE"/><path d="M993.4 1097.7L1002.1 1089L1010.8 1097.7L1002.1 1106.4Z" fill="#B177DE"/><path d="M1026.1 1123.8L1034.8 1115.1L1043.5 1123.8L1034.8 1132.5Z" fill="#B177DE"/><path d="M1058.7 1167.4L1067.4 1158.7L1076.1 1167.4L1067.4 1176.1Z" fill="#B177DE"/><path d="M1091.4 1193.1L1100.1 1184.4L1108.8 1193.1L1100.1 1201.8Z" fill="#B177DE"/><path d="M1124 1219L1132.7 1210.3L1141.4 1219L1132.7 1227.7Z" fill="#B177DE"/><path d="M1156.6 1237.5L1165.3 1228.8L1174 1237.5L1165.3 1246.2Z" fill="#B177DE"/><path d="M1189.3 1255.6L1198 1246.9L1206.7 1255.6L1198 1264.3Z" fill="#B177DE"/><path d="M1221.9 1270L1230.6 1261.3L1239.3 1270L1230.6 1278.7Z" fill="#B177DE"/><path d="M1254.6 1279.9L1263.3 1271.2L1272 1279.9L1263.3 1288.6Z" fill="#B177DE"/><path d="M1287.2 1290.3L1295.9 1281.6L1304.6 1290.3L1295.9 1299Z" fill="#B177DE"/><path d="M1319.8 1300.4L1328.5 1291.7L1337.2 1300.4L1328.5 1309.1Z" fill="#B177DE"/><path d="M1352.5 1305.6L1361.2 1296.9L1369.9 1305.6L1361.2 1314.3Z" fill="#B177DE"/></g>
<path d="M653.7 1302.6L665.1 1300.5M686 1295.1L698.1 1291.1M717.9 1282.7L731.5 1275.5M751.3 1267.3L763.4 1263.5M783.5 1255.8L796.5 1249.9M816.6 1242.2L828.6 1238.6M849.7 1236.6L860.9 1238M882 1236.4L893.8 1233.2M913.8 1235.4L927.3 1242.4M947.6 1248L958.7 1248.6M980.2 1250.6L991.4 1252.1M1012.9 1254.1L1024 1254.8M1044.3 1260.5L1057.9 1268M1078 1275.1L1089.4 1277.2M1110.5 1281.9L1122.2 1285M1143.2 1290.2L1154.8 1293.1M1176 1297.4L1187.3 1299.3M1208.6 1303L1220 1305.1M1241.3 1308.5L1252.6 1310M1274 1312.7L1285.2 1314M1306.7 1316.2L1317.8 1317.1M1339.3 1319.1L1350.4 1320.1" stroke="#CC9900" stroke-width="1.5" fill="none"/>
<g><path d="M631.9 1304.6L649.9 1295.7L649.9 1313.5Z" fill="#CC9900"/><path d="M664.5 1298.5L682.5 1289.6L682.5 1307.4Z" fill="#CC9900"/><path d="M697.2 1287.7L715.2 1278.8L715.2 1296.6Z" fill="#CC9900"/><path d="M729.8 1270.5L747.8 1261.6L747.8 1279.4Z" fill="#CC9900"/><path d="M762.5 1260.3L780.5 1251.4L780.5 1269.2Z" fill="#CC9900"/><path d="M795.1 1245.4L813.1 1236.5L813.1 1254.3Z" fill="#CC9900"/><path d="M827.7 1235.4L845.7 1226.5L845.7 1244.3Z" fill="#CC9900"/><path d="M860.4 1239.2L878.4 1230.3L878.4 1248.1Z" fill="#CC9900"/><path d="M893 1230.4L911 1221.5L911 1239.3Z" fill="#CC9900"/><path d="M925.7 1247.4L943.7 1238.5L943.7 1256.3Z" fill="#CC9900"/><path d="M958.3 1249.2L976.3 1240.3L976.3 1258.1Z" fill="#CC9900"/><path d="M990.9 1253.5L1008.9 1244.6L1008.9 1262.4Z" fill="#CC9900"/><path d="M1023.6 1255.4L1041.6 1246.5L1041.6 1264.3Z" fill="#CC9900"/><path d="M1056.2 1273.1L1074.2 1264.2L1074.2 1282Z" fill="#CC9900"/><path d="M1088.9 1279.2L1106.9 1270.3L1106.9 1288.1Z" fill="#CC9900"/><path d="M1121.5 1287.7L1139.5 1278.8L1139.5 1296.6Z" fill="#CC9900"/><path d="M1154.1 1295.6L1172.1 1286.7L1172.1 1304.5Z" fill="#CC9900"/><path d="M1186.8 1301.1L1204.8 1292.2L1204.8 1310Z" fill="#CC9900"/><path d="M1219.4 1307L1237.4 1298.1L1237.4 1315.9Z" fill="#CC9900"/><path d="M1252.1 1311.5L1270.1 1302.6L1270.1 1320.4Z" fill="#CC9900"/><path d="M1284.7 1315.2L1302.7 1306.3L1302.7 1324.1Z" fill="#CC9900"/><path d="M1317.3 1318.1L1335.3 1309.2L1335.3 1327Z" fill="#CC9900"/><path d="M1350 1321.1L1368 1312.2L1368 1330Z" fill="#CC9900"/></g>
<path d="M653.6 1315.2L665.2 1312.5M686.1 1306.8L698.1 1303.2M718.9 1297.5L730.5 1294.8M751.4 1289.4L763.3 1286M784.3 1281.3L795.6 1279.5M816.5 1274.1L828.8 1269.8M849.7 1265.7L860.8 1265.1M881.9 1267.9L893.9 1271.7M914.9 1273.6L926.1 1272.2M947.6 1271.8L958.7 1272.8M979.8 1277L991.8 1280.6M1012.9 1284.8L1024 1285.9M1045.1 1290.1L1057.1 1293.7M1077.7 1300.3L1089.8 1304.3M1110.9 1307.9L1121.9 1308M1143.4 1309.3L1154.6 1310.4M1176 1313.2L1187.3 1315M1208.7 1317.9L1219.9 1319.2M1241.4 1321.1L1252.5 1321.9M1274 1323.6L1285.1 1324.6M1306.7 1326.3L1317.8 1327.1M1339.3 1328.5L1350.4 1329.3" stroke="#00CBCC" stroke-width="1.5" fill="none"/>
<g><path d="M653.4 1317.7L636.4 1308.7L636.4 1326.7Z" fill="#00CBCC"/><path d="M686 1310L669 1301L669 1319Z" fill="#00CBCC"/><path d="M718.7 1300L701.7 1291L701.7 1309Z" fill="#00CBCC"/><path d="M751.3 1292.3L734.3 1283.3L734.3 1301.3Z" fill="#00CBCC"/><path d="M784 1283.1L767 1274.1L767 1292.1Z" fill="#00CBCC"/><path d="M816.6 1277.7L799.6 1268.7L799.6 1286.7Z" fill="#00CBCC"/><path d="M849.2 1266.2L832.2 1257.2L832.2 1275.2Z" fill="#00CBCC"/><path d="M881.9 1264.6L864.9 1255.6L864.9 1273.6Z" fill="#00CBCC"/><path d="M914.5 1275L897.5 1266L897.5 1284Z" fill="#00CBCC"/><path d="M947.2 1270.8L930.2 1261.8L930.2 1279.8Z" fill="#00CBCC"/><path d="M979.8 1273.8L962.8 1264.8L962.8 1282.8Z" fill="#00CBCC"/><path d="M1012.4 1283.8L995.4 1274.8L995.4 1292.8Z" fill="#00CBCC"/><path d="M1045.1 1286.9L1028.1 1277.9L1028.1 1295.9Z" fill="#00CBCC"/><path d="M1077.7 1296.9L1060.7 1287.9L1060.7 1305.9Z" fill="#00CBCC"/><path d="M1110.4 1307.7L1093.4 1298.7L1093.4 1316.7Z" fill="#00CBCC"/><path d="M1143 1308.2L1126 1299.2L1126 1317.2Z" fill="#00CBCC"/><path d="M1175.6 1311.5L1158.6 1302.5L1158.6 1320.5Z" fill="#00CBCC"/><path d="M1208.3 1316.7L1191.3 1307.7L1191.3 1325.7Z" fill="#00CBCC"/><path d="M1240.9 1320.4L1223.9 1311.4L1223.9 1329.4Z" fill="#00CBCC"/><path d="M1273.6 1322.6L1256.6 1313.6L1256.6 1331.6Z" fill="#00CBCC"/><path d="M1306.2 1325.6L1289.2 1316.6L1289.2 1334.6Z" fill="#00CBCC"/><path d="M1338.8 1327.8L1321.8 1318.8L1321.8 1336.8Z" fill="#00CBCC"/><path d="M1371.5 1330L1354.5 1321L1354.5 1339Z" fill="#00CBCC"/></g>
<path d="M1059.5 769.2H1089.2M1107.7 769.2H1136.3" stroke="#4a4a4a" stroke-width="1.5" fill="none"/>
<rect x="1091.5" y="762.6" width="13.4" height="13.2" fill="#4a4a4a"/>
<text x="0" y="0" transform="translate(1143.8 779.6) scale(1.028 1)" font-family="'Liberation Serif','Times New Roman',serif" font-size="34" text-anchor="start" font-weight="normal" stroke="#000" stroke-width="0.45">Pure PA6</text>
<path d="M1059.5 811.1H1089.2M1107.7 811.1H1136.3" stroke="#F14040" stroke-width="1.5" fill="none"/>
<circle cx="1098.2" cy="811.1" r="7.4" fill="#F14040"/>
<text x="0" y="0" transform="translate(1143.8 821.5) scale(1.028 1)" font-family="'Liberation Serif','Times New Roman',serif" font-size="34" text-anchor="start" font-weight="normal" stroke="#000" stroke-width="0.45">PA6-ZeMac0.3</text>
<path d="M1059.5 852.9H1089.2M1107.7 852.9H1136.3" stroke="#1A6FDF" stroke-width="1.5" fill="none"/>
<path d="M1089.6 858.1L1106.8 858.1L1098.2 842.6Z" fill="#1A6FDF"/>
<text x="0" y="0" transform="translate(1143.8 863.3) scale(1.028 1)" font-family="'Liberation Serif','Times New Roman',serif" font-size="34" text-anchor="start" font-weight="normal" stroke="#000" stroke-width="0.45">PA6-ZeMac0.5</text>
<path d="M1059.5 894.8H1089.2M1107.7 894.8H1136.3" stroke="#37AD6B" stroke-width="1.5" fill="none"/>
<path d="M1089.6 889.6L1106.8 889.6L1098.2 905.1Z" fill="#37AD6B"/>
<text x="0" y="0" transform="translate(1143.8 905.1) scale(1.028 1)" font-family="'Liberation Serif','Times New Roman',serif" font-size="34" text-anchor="start" font-weight="normal" stroke="#000" stroke-width="0.45">PA6-ZeMac0.7</text>
<path d="M1059.5 936.6H1089.2M1107.7 936.6H1136.3" stroke="#B177DE" stroke-width="1.5" fill="none"/>
<path d="M1089.5 936.6L1098.2 927.9L1106.9 936.6L1098.2 945.3Z" fill="#B177DE"/>
<text x="0" y="0" transform="translate(1143.8 947) scale(1.028 1)" font-family="'Liberation Serif','Times New Roman',serif" font-size="34" text-anchor="start" font-weight="normal" stroke="#000" stroke-width="0.45">PA6-TGIC0.3</text>
<path d="M1059.5 978.5H1089.2M1107.7 978.5H1136.3" stroke="#CC9900" stroke-width="1.5" fill="none"/>
<path d="M1087 978.5L1105 969.6L1105 987.4Z" fill="#CC9900"/>
<text x="0" y="0" transform="translate(1143.8 988.9) scale(1.028 1)" font-family="'Liberation Serif','Times New Roman',serif" font-size="34" text-anchor="start" font-weight="normal" stroke="#000" stroke-width="0.45">PA6-TGIC0.5</text>
<path d="M1059.5 1020.3H1089.2M1107.7 1020.3H1136.3" stroke="#00CBCC" stroke-width="1.5" fill="none"/>
<path d="M1108.5 1020.3L1091.5 1011.3L1091.5 1029.3Z" fill="#00CBCC"/>
<text x="0" y="0" transform="translate(1143.8 1030.7) scale(1.028 1)" font-family="'Liberation Serif','Times New Roman',serif" font-size="34" text-anchor="start" font-weight="normal" stroke="#000" stroke-width="0.45">PA6-TGIC0.7</text>
<text x="0" y="0" transform="translate(959.4 789) scale(1.1 1)" font-family="'Liberation Serif','Times New Roman',serif" font-size="35" text-anchor="middle" font-weight="bold" >(c)</text>
</svg>
</body>
</html>
